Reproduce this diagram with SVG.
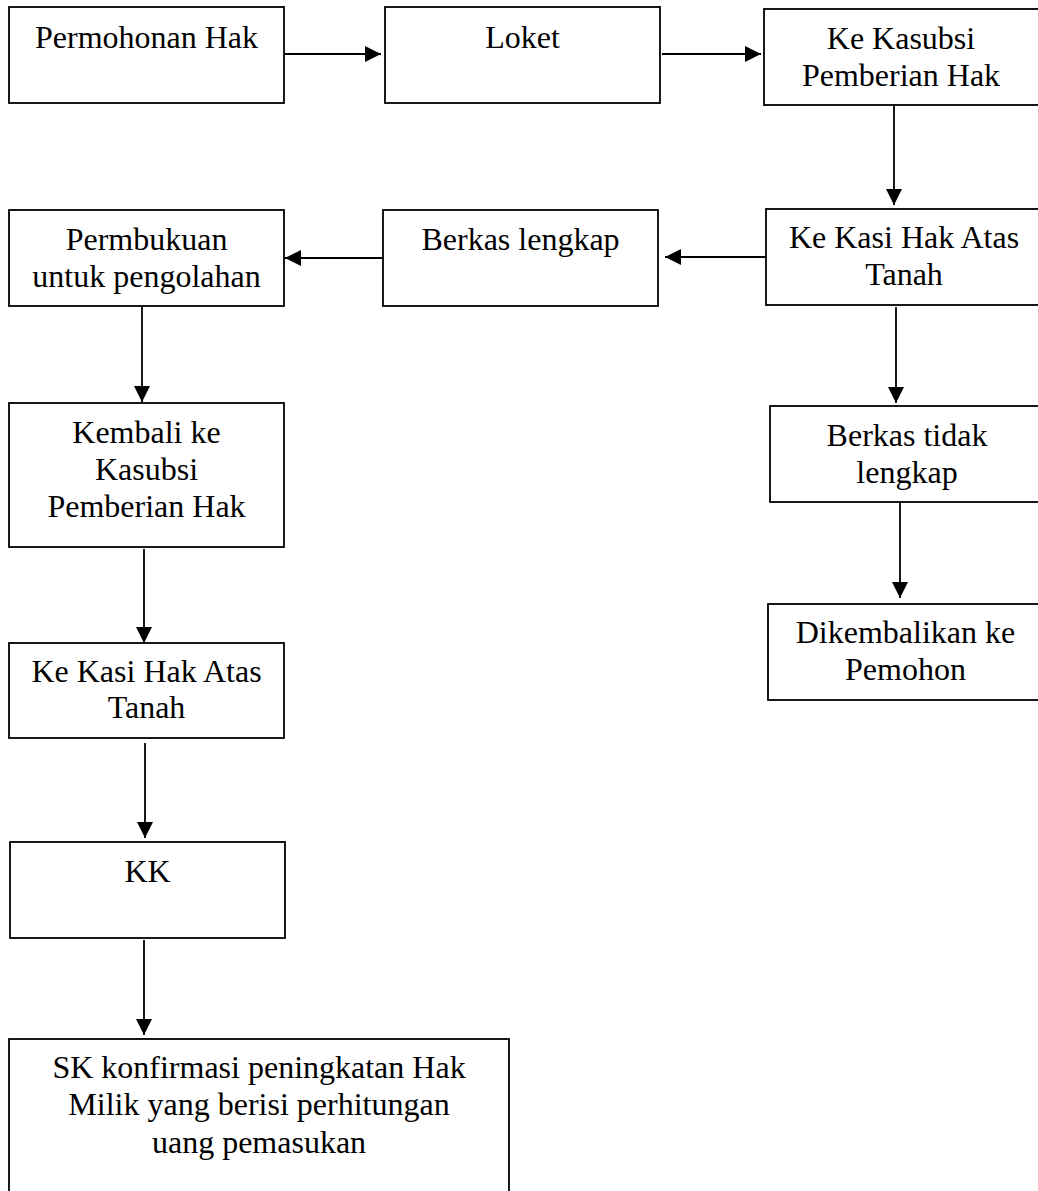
<svg xmlns="http://www.w3.org/2000/svg" width="1038" height="1191" viewBox="0 0 1038 1191">
<style>
.box{fill:#fff;stroke:#000;stroke-width:1.8}
.t{font-family:"Liberation Serif","Times New Roman",serif;font-size:32px;fill:#000;text-anchor:middle}
.c{stroke:#000;stroke-width:1.8;fill:none;marker-end:url(#ah)}
</style>
<defs>
<marker id="ah" markerUnits="userSpaceOnUse" markerWidth="16" markerHeight="16" refX="16" refY="8" orient="auto">
<path d="M0,0 L16,8 L0,16 z" fill="#000"/>
</marker>
</defs>
<rect width="1038" height="1191" fill="#fff"/>
<g id="connectors">
<line class="c" x1="281" y1="54" x2="381" y2="54"/>
<line class="c" x1="662" y1="54" x2="761" y2="54"/>
<line class="c" x1="894" y1="105" x2="894" y2="205"/>
<line class="c" x1="766" y1="257" x2="665" y2="257"/>
<line class="c" x1="383" y1="258" x2="285" y2="258"/>
<line class="c" x1="142" y1="306" x2="142" y2="402"/>
<line class="c" x1="144" y1="549" x2="144" y2="643"/>
<line class="c" x1="145" y1="743" x2="145" y2="838"/>
<line class="c" x1="144" y1="940" x2="144" y2="1035"/>
<line class="c" x1="896" y1="307" x2="896" y2="403"/>
<line class="c" x1="900" y1="502" x2="900" y2="598"/>
</g>
<g id="n1"><rect class="box" x="9" y="7" width="275" height="96"/><text class="t" x="146.5" y="48">Permohonan Hak</text></g>
<g id="n2"><rect class="box" x="385" y="7" width="275" height="96"/><text class="t" x="522.5" y="48">Loket</text></g>
<g id="n3"><rect class="box" x="764" y="9" width="280" height="96"/><text class="t" x="901" y="49">Ke Kasubsi</text><text class="t" x="901" y="86">Pemberian Hak</text></g>
<g id="n4"><rect class="box" x="766" y="209" width="280" height="96"/><text class="t" x="904" y="248">Ke Kasi Hak Atas</text><text class="t" x="904" y="285">Tanah</text></g>
<g id="n5"><rect class="box" x="383" y="210" width="275" height="96"/><text class="t" x="520.5" y="250">Berkas lengkap</text></g>
<g id="n6"><rect class="box" x="9" y="210" width="275" height="96"/><text class="t" x="146.5" y="250">Permbukuan</text><text class="t" x="146.5" y="287">untuk pengolahan</text></g>
<g id="n7"><rect class="box" x="9" y="403" width="275" height="144"/><text class="t" x="146.5" y="443">Kembali ke</text><text class="t" x="146.5" y="480">Kasubsi</text><text class="t" x="146.5" y="517">Pemberian Hak</text></g>
<g id="n8"><rect class="box" x="9" y="643" width="275" height="95"/><text class="t" x="146.5" y="682">Ke Kasi Hak Atas</text><text class="t" x="146.5" y="718">Tanah</text></g>
<g id="n9"><rect class="box" x="10" y="842" width="275" height="96"/><text class="t" x="147.5" y="882">KK</text></g>
<g id="n10"><rect class="box" x="9" y="1039" width="500" height="200"/><text class="t" x="259" y="1078">SK konfirmasi peningkatan Hak</text><text class="t" x="259" y="1115">Milik yang berisi perhitungan</text><text class="t" x="259" y="1153">uang pemasukan</text></g>
<g id="n11"><rect class="box" x="770" y="406" width="280" height="96"/><text class="t" x="907" y="446">Berkas tidak</text><text class="t" x="907" y="483">lengkap</text></g>
<g id="n12"><rect class="box" x="768" y="604" width="280" height="96"/><text class="t" x="905.5" y="643">Dikembalikan ke</text><text class="t" x="905.5" y="680">Pemohon</text></g>
</svg>
